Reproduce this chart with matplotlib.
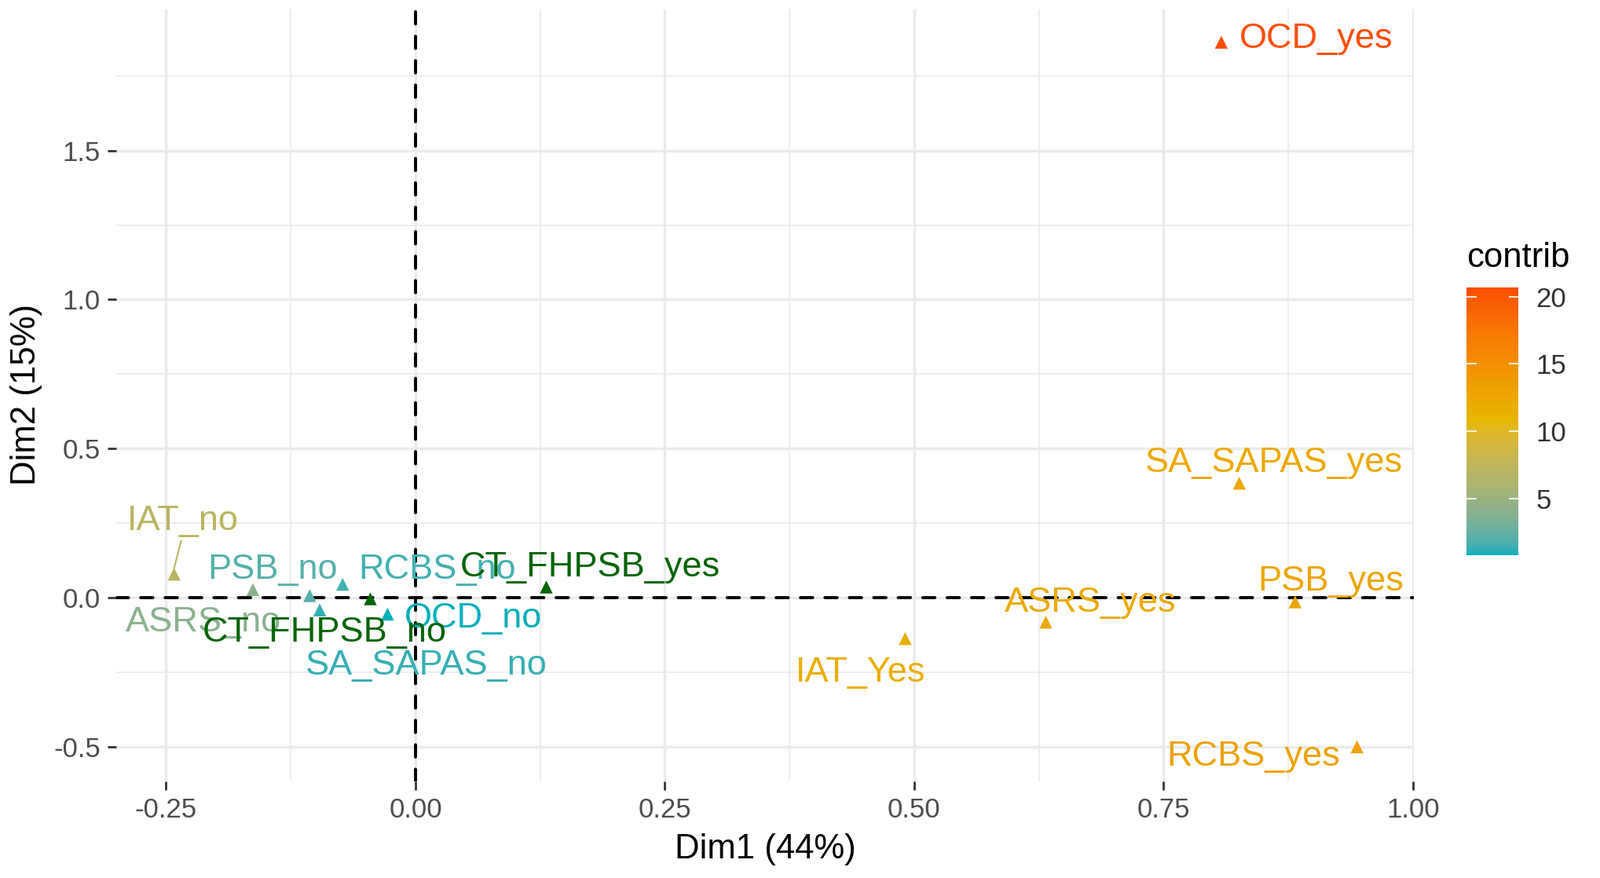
import matplotlib
matplotlib.use("Agg")
import matplotlib.pyplot as plt
from matplotlib.colors import ListedColormap, Normalize, to_rgb
import numpy as np

plt.rcParams['font.family'] = ['Liberation Sans', 'DejaVu Sans']

# ---- data (active categories) ----
categories = ["OCD_yes", "SA_SAPAS_yes", "PSB_yes", "ASRS_yes", "IAT_Yes", "RCBS_yes",
              "IAT_no", "ASRS_no", "PSB_no", "RCBS_no", "SA_SAPAS_no", "OCD_no"]
dim1 = [0.808, 0.826, 0.882, 0.632, 0.491, 0.944,
        -0.242, -0.163, -0.106, -0.073, -0.096, -0.028]
dim2 = [1.863, 0.384, -0.014, -0.082, -0.137, -0.500,
        0.079, 0.027, 0.007, 0.045, -0.041, -0.055]
contrib = [20.7, 12.6, 12.8, 12.4, 12.0, 13.3,
           7.0, 4.0, 2.0, 1.5, 1.3, 0.8]

# ---- supplementary categories ----
sup_categories = ["CT_FHPSB_yes", "CT_FHPSB_no"]
sup_dim1 = [0.131, -0.046]
sup_dim2 = [0.038, -0.003]

x_ticks = [-0.25, 0.00, 0.25, 0.50, 0.75, 1.00]
x_ticklabels = ["-0.25", "0.00", "0.25", "0.50", "0.75", "1.00"]
y_ticks = [-0.5, 0.0, 0.5, 1.0, 1.5]
y_ticklabels = ["-0.5", "0.0", "0.5", "1.0", "1.5"]
cbar_ticks = [5, 10, 15, 20]
gradient_cols = ["#00AFBB", "#E7B800", "#FC4E07"]

# label placements (repelled text positions, styling only)
label_pos = {
    "OCD_yes": (0.826, 1.884, 'left'),
    "SA_SAPAS_yes": (0.861, 0.462, 'center'),
    "PSB_yes": (0.918, 0.065, 'center'),
    "ASRS_yes": (0.677, -0.007, 'center'),
    "IAT_Yes": (0.446, -0.240, 'center'),
    "RCBS_yes": (0.840, -0.521, 'center'),
    "IAT_no": (-0.233, 0.267, 'center'),
    "ASRS_no": (-0.213, -0.072, 'center'),
    "PSB_no": (-0.143, 0.106, 'center'),
    "RCBS_no": (0.022, 0.106, 'center'),
    "SA_SAPAS_no": (0.011, -0.216, 'center'),
    "OCD_no": (0.058, -0.058, 'center'),
    "CT_FHPSB_yes": (0.175, 0.113, 'center'),
    "CT_FHPSB_no": (-0.091, -0.106, 'center'),
}
LABEL_DY = -0.011


# ---- Lab-interpolated gradient (like ggplot's gradientn) ----
M = np.array([[0.4124564, 0.3575761, 0.1804375],
              [0.2126729, 0.7151522, 0.0721750],
              [0.0193339, 0.1191920, 0.9503041]])
Minv = np.linalg.inv(M)
WHITE = np.array([0.95047, 1.0, 1.08883])


def rgb2lab(rgb):
    c = np.asarray(rgb, float)
    lin = np.where(c <= 0.04045, c / 12.92, ((c + 0.055) / 1.055) ** 2.4)
    xyz = M @ lin / WHITE
    f = np.where(xyz > (6 / 29) ** 3, np.cbrt(xyz), xyz / (3 * (6 / 29) ** 2) + 4 / 29)
    return np.array([116 * f[1] - 16, 500 * (f[0] - f[1]), 200 * (f[1] - f[2])])


def lab2rgb(lab):
    L, a, b = lab
    fy = (L + 16) / 116
    fx = fy + a / 500
    fz = fy - b / 200
    f = np.array([fx, fy, fz])
    xyz = np.where(f > 6 / 29, f ** 3, 3 * (6 / 29) ** 2 * (f - 4 / 29)) * WHITE
    lin = Minv @ xyz
    lin = np.clip(lin, 0, 1)
    c = np.where(lin <= 0.0031308, 12.92 * lin, 1.055 * lin ** (1 / 2.4) - 0.055)
    return np.clip(c, 0, 1)


anchors = [rgb2lab(to_rgb(c)) for c in gradient_cols]
lut = []
for t in np.linspace(0, 1, 256):
    seg = min(int(t * 2), 1)
    u = t * 2 - seg
    lut.append(lab2rgb(anchors[seg] * (1 - u) + anchors[seg + 1] * u))
cmap = ListedColormap(lut)
norm = Normalize(vmin=0.8, vmax=20.7)

W, H = 2037, 1118
fig = plt.figure(figsize=(W / 100, H / 100), dpi=100)
ax = fig.add_axes([148 / W, 1 - 995 / H, (1800 - 148) / W, (995 - 12) / H])

ax.set_xlim(-0.300, 1.001)
ax.set_ylim(-0.616, 1.973)

# grid
ax.set_xticks(x_ticks)
ax.set_xticklabels(x_ticklabels)
ax.set_yticks(y_ticks)
ax.set_yticklabels(y_ticklabels)
ax.set_xticks([-0.125, 0.125, 0.375, 0.625, 0.875], minor=True)
ax.set_yticks([-0.25, 0.25, 0.75, 1.25, 1.75], minor=True)
ax.grid(which='major', color='#EBEBEB', linewidth=2.4, zorder=0)
ax.grid(which='minor', color='#EBEBEB', linewidth=1.2, zorder=0)
ax.set_axisbelow(True)
for s in ax.spines.values():
    s.set_visible(False)
ax.tick_params(axis='both', which='major', length=8, width=2.0, color='#333333',
               labelcolor='#4D4D4D', labelsize=25, pad=6.5)
ax.tick_params(axis='both', which='minor', length=0)

# reference lines
ax.axhline(0, color='black', linestyle=(0, (4, 4)), linewidth=2.8,
           dash_capstyle='round', zorder=2)
ax.axvline(0, color='black', linestyle=(0, (4, 4)), linewidth=2.8,
           dash_capstyle='round', zorder=2)

# points
cols = [cmap(norm(c)) for c in contrib]
ax.scatter(dim1, dim2, marker='^', s=140, c=cols, linewidths=0, zorder=3)
ax.scatter(sup_dim1, sup_dim2, marker='^', s=140, c='#006400', linewidths=0, zorder=3)

# labels
for name, col in zip(categories, cols):
    lx, ly, ha = label_pos[name]
    ax.text(lx, ly + LABEL_DY, name, color=col, fontsize=32.5, ha=ha, va='center', zorder=4)
for name in sup_categories:
    lx, ly, ha = label_pos[name]
    ax.text(lx, ly + LABEL_DY, name, color='#006400', fontsize=32.5, ha=ha, va='center',
            zorder=4)

# repel segment for IAT_no
i = categories.index("IAT_no")
ax.plot([dim1[i], dim1[i] + 0.007], [dim2[i] + 0.02, 0.190], color=cols[i],
        linewidth=1.5, zorder=3)

# axis titles
fig.text(974 / W, 1 - 1093 / H, "Dim1 (44%)", fontsize=31.5, ha='center', va='baseline',
         color='black')
fig.text(34 / W, 1 - 503 / H, "Dim2 (15%)", fontsize=31.5, ha='center', va='center',
         rotation=90, color='black')

# colorbar
cax = fig.add_axes([1867 / W, 1 - 706.7 / H, 66 / W, 341 / H])
grad = np.linspace(norm.vmin, norm.vmax, 256).reshape(-1, 1)
cax.imshow(grad, aspect='auto', cmap=cmap, norm=norm, origin='lower',
           extent=[0, 1, norm.vmin, norm.vmax])
cax.set_xticks([])
cax.set_yticks(cbar_ticks)
cax.set_yticklabels([str(t) for t in cbar_ticks])
cax.yaxis.set_ticks_position('both')
cax.tick_params(axis='y', direction='in', length=9, width=1.2, color='white',
                labelcolor='#333333', labelsize=25, labelleft=False, labelright=True, pad=16)
for s in cax.spines.values():
    s.set_visible(False)
fig.text(1867 / W, 1 - 340 / H, "contrib", fontsize=31.5, ha='left', va='baseline',
         color='black')

fig.savefig("out.png", dpi=100)
